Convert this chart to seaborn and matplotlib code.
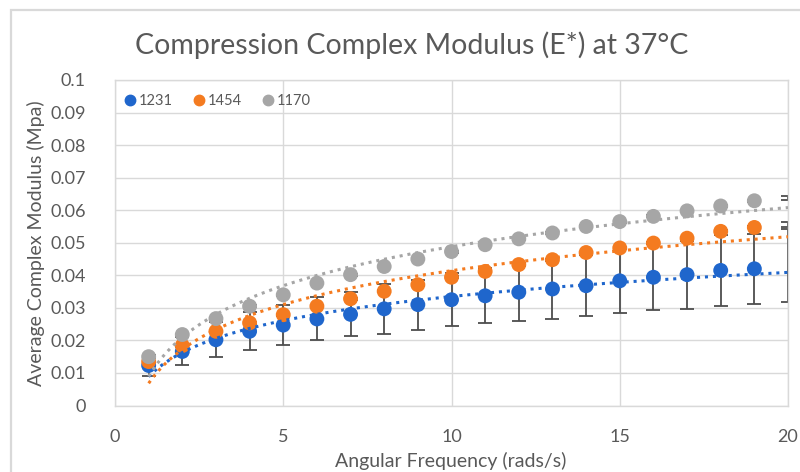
import numpy as np
import pandas as pd
import matplotlib
matplotlib.use("Agg")
import matplotlib.pyplot as plt
import seaborn as sns
from matplotlib.lines import Line2D
from matplotlib.patches import Rectangle

# ---- data ----
freq = [1, 2, 3, 4, 5, 6, 7, 8, 9, 10, 11, 12, 13, 14, 15, 16, 17, 18, 19, 20]
s1231 = [0.0123, 0.0166, 0.0202, 0.0228, 0.0247, 0.0266, 0.0280, 0.0297, 0.0310, 0.0325,
         0.0337, 0.0348, 0.0358, 0.0368, 0.0383, 0.0394, 0.0402, 0.0415, 0.0420, 0.0431]
e1231 = [0.0031, 0.0043, 0.0054, 0.0059, 0.0062, 0.0066, 0.0068, 0.0076, 0.0077, 0.0082,
         0.0085, 0.0089, 0.0091, 0.0094, 0.0099, 0.0102, 0.0104, 0.0110, 0.0108, 0.0112]
s1454 = [0.0135, 0.0184, 0.0228, 0.0254, 0.0279, 0.0305, 0.0328, 0.0351, 0.0371, 0.0394,
         0.0412, 0.0433, 0.0448, 0.0470, 0.0484, 0.0499, 0.0514, 0.0535, 0.0547, 0.0556]
e1454 = [0.0003, 0.0003, 0.0003, 0.0003, 0.0003, 0.0003, 0.0003, 0.0003, 0.0003, 0.0003,
         0.0003, 0.0003, 0.0003, 0.0003, 0.0003, 0.0003, 0.0003, 0.0003, 0.0003, 0.0007]
s1170 = [0.0150, 0.0218, 0.0267, 0.0305, 0.0340, 0.0376, 0.0402, 0.0427, 0.0450, 0.0473,
         0.0494, 0.0512, 0.0530, 0.0550, 0.0565, 0.0581, 0.0598, 0.0613, 0.0629, 0.0637]
e1170 = [0.0003, 0.0003, 0.0003, 0.0003, 0.0003, 0.0003, 0.0003, 0.0003, 0.0003, 0.0003,
         0.0003, 0.0003, 0.0003, 0.0003, 0.0003, 0.0003, 0.0003, 0.0003, 0.0003, 0.0007]
series_names = ["1231", "1454", "1170"]
colors = ["#1F66CC", "#F47B20", "#A6A6A6"]

title = "Compression Complex Modulus (E*) at 37°C"
xlabel = "Angular Frequency (rads/s)"
ylabel = "Average Complex Modulus (Mpa)"
ytick_labels = ["0", "0.01", "0.02", "0.03", "0.04", "0.05", "0.06", "0.07", "0.08", "0.09", "0.1"]

sns.set_theme(style="white")
plt.rcParams["font.family"] = ["Lato", "DejaVu Sans"]

W, H = 800, 472
fig = plt.figure(figsize=(W / 100, H / 100), dpi=100)
fig.patch.set_facecolor("white")

# chart border (cropped at right/bottom)
fig.patches.append(Rectangle((11 / W, -0.1), 1.2, 1.1 - 10 / H, transform=fig.transFigure,
                             fill=False, edgecolor="#D9D9D9", linewidth=1.6))

ax = fig.add_axes([115 / W, (H - 405.5) / H, (788 - 115) / W, (405.5 - 80) / H])

vals = [s1231, s1454, s1170]
errs = [e1231, e1454, e1170]
rows = []
for name, v in zip(series_names, vals):
    for f, y in zip(freq, v):
        rows.append({"freq": f, "val": y, "series": name})
df = pd.DataFrame(rows)

# error bars (drawn first, under markers)
for name, v, e in zip(series_names, vals, errs):
    ax.errorbar(freq, v, yerr=e, fmt="none", ecolor="#4D4D4D", elinewidth=1.3,
                capsize=5, capthick=1.3, zorder=2)

# markers (last point at x=20 falls on the edge and is hidden)
dmark = df[df["freq"] < 20]
sns.scatterplot(data=dmark, x="freq", y="val", hue="series", palette=colors,
                hue_order=series_names, s=115, edgecolor="none", legend=False,
                ax=ax, zorder=3)

# logarithmic trendlines
xt = np.linspace(1, 20, 200)
for name, v, c in zip(series_names, vals, colors):
    a, b = np.polyfit(np.log(np.array(freq, dtype=float)), np.array(v), 1)
    sns.lineplot(x=xt, y=a * np.log(xt) + b, color=c, linestyle=(0, (1, 1.6)),
                 linewidth=2.2, ax=ax, zorder=4)

ax.set_xlim(0, 20)
ax.set_ylim(0, 0.1)
ax.set_xticks([0, 5, 10, 15, 20])
ax.set_yticks(np.linspace(0, 0.1, 11))
ax.set_yticklabels(ytick_labels)
ax.grid(True, color="#D9D9D9", linewidth=1.0)
ax.set_axisbelow(True)
for sp in ax.spines.values():
    sp.set_color("#D9D9D9")
    sp.set_linewidth(1.0)
ax.tick_params(axis="both", length=0, labelsize=13, labelcolor="#595959")
ax.tick_params(axis="x", pad=17)
ax.tick_params(axis="y", pad=21)
ax.set_xlabel("")
ax.set_ylabel(ylabel, fontsize=14, color="#595959", labelpad=4)

fig.text(451 / W, 1 - 461 / H, xlabel, ha="center", va="center", fontsize=14, color="#595959")
fig.text(412 / W, 1 - 45 / H, title, ha="center", va="center", fontsize=20.5, color="#595959")

handles = [Line2D([], [], marker="o", linestyle="none", markersize=7.5, color=c) for c in colors]
ax.legend(handles, series_names, loc="upper left", bbox_to_anchor=(0.0, 0.985), ncol=3,
          frameon=False, fontsize=10.5, handlelength=0.8, handletextpad=0.2,
          columnspacing=1.4, labelcolor="#595959", borderaxespad=0.3, borderpad=0.3)

fig.savefig("out.png", dpi=100)
